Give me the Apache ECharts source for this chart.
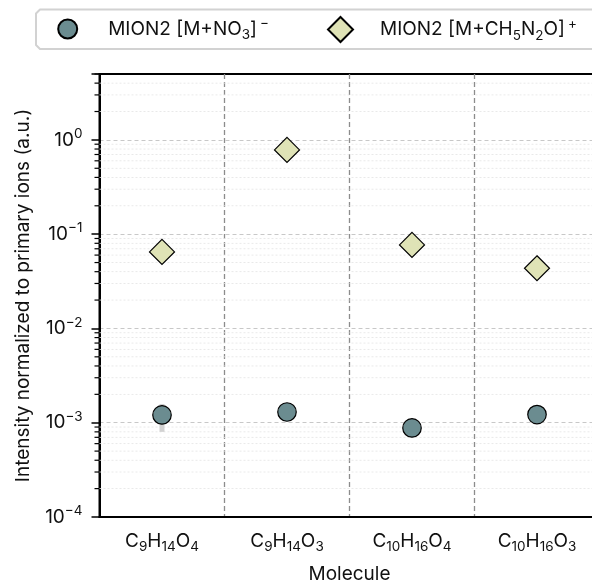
<!DOCTYPE html>
<html>
<head>
<meta charset="utf-8">
<script src="https://cdn.jsdelivr.net/npm/echarts@6/dist/echarts.min.js"></script>
<style>
  html, body { margin: 0; padding: 0; background: #fff; }
  #chart { width: 592px; height: 584px; }
</style>
</head>
<body>
<div id="chart"></div>
<script>
// ---- data ----
const categories = ['C9H14O4', 'C9H14O3', 'C10H16O4', 'C10H16O3'];
const seriesNames = ['MION2 [M+NO3]-', 'MION2 [M+CH5N2O]+'];
const nitrateValues = [0.00121, 0.00130, 0.00088, 0.00122];
const nitrateLow    = [0.00080, 0.00121, 0.00083, 0.00114];
const nitrateHigh   = [0.00158, 0.00139, 0.00094, 0.00130];
const ureaValues    = [0.0648, 0.783, 0.0769, 0.0435];
const yTickExponents = [-4, -3, -2, -1, 0];
const minorMantissas = [2, 3, 4, 5, 6, 7, 8, 9];

const FONT = 'Inter, "Open Sans", sans-serif';
const FS = 19;
const FS_SMALL = 13.5;
const circleColor = '#6b8c90';
const diamondColor = '#dfe3b6';

const minorValues = [];
yTickExponents.forEach(e => minorMantissas.forEach(m => {
  const v = m * Math.pow(10, e);
  if (v <= 5) minorValues.push(v);
}));

function chemRich(s) {
  return s.replace(/(\d+)/g, '{s|$1}');
}
function legendRich(name) {
  if (name === seriesNames[0]) return '{g1|}{t|MION2 [M+NO}{s|3}{t|]}{p|−}';
  return '{g2|}{t|MION2 [M+CH}{s|5}{t|N}{s|2}{t|O]}{p|+}';
}
const legendRichStyles = {
  t: { fontSize: FS, fontFamily: FONT, color: '#111', lineHeight: 26 },
  s: { fontSize: FS_SMALL, fontFamily: FONT, color: '#111', lineHeight: 13, verticalAlign: 'bottom' },
  p: { fontSize: FS_SMALL, fontFamily: FONT, color: '#111', lineHeight: 13, verticalAlign: 'top', padding: [0, 0, 0, 3] },
  g1: { width: 26 },
  g2: { width: 22 }
};

const chart = echarts.init(document.getElementById('chart'), null, { renderer: 'canvas' });

const option = {
  animation: false,
  backgroundColor: '#fff',
  graphic: [{
    type: 'polyline', z: -10,
    shape: { points: [[720, 9.5], [40, 9.5], [36, 13.5], [36, 45], [40, 49], [720, 49]] },
    style: { fill: null, stroke: '#d2d2d2', lineWidth: 2, lineJoin: 'round' }
  }],
  legend: [{
    data: [{ name: seriesNames[0], icon: 'circle' }],
    left: 57.2, top: 16, padding: 0,
    itemWidth: 19, itemHeight: 19,
    selectedMode: false,
    formatter: legendRich,
    textStyle: { rich: legendRichStyles }
  }, {
    data: [{ name: seriesNames[1], icon: 'diamond' }],
    left: 327, top: 16, padding: 0,
    itemWidth: 25, itemHeight: 25,
    selectedMode: false,
    formatter: legendRich,
    textStyle: { rich: legendRichStyles }
  }],
  grid: {
    left: 99.5, top: 74, bottom: 67, right: -7.5,
    containLabel: false,
    outerBoundsMode: 'none',
    show: true, borderColor: '#000', borderWidth: 2, backgroundColor: 'transparent'
  },
  xAxis: {
    type: 'category',
    data: categories,
    boundaryGap: true,
    name: 'Molecule',
    nameLocation: 'middle',
    nameGap: 48,
    nameTextStyle: { fontSize: FS, fontFamily: FONT, color: '#111' },
    axisLine: { lineStyle: { color: '#000', width: 2 } },
    axisTick: { show: false },
    axisLabel: {
      interval: 0,
      margin: 11,
      formatter: chemRich,
      rich: {
        s: { fontSize: FS_SMALL, fontFamily: FONT, color: '#111', lineHeight: 13, verticalAlign: 'bottom' }
      },
      fontSize: FS, fontFamily: FONT, color: '#111', lineHeight: 26
    },
    splitLine: { show: true, interval: 0, lineStyle: { color: '#8c8c8c', width: 1.3, type: [5, 3] } }
  },
  yAxis: {
    type: 'log',
    logBase: 10,
    min: 1e-4,
    max: 5,
    name: 'Intensity normalized to primary ions (a.u.)',
    nameLocation: 'middle',
    nameGap: 67,
    nameTextStyle: { fontSize: FS, fontFamily: FONT, color: '#111' },
    axisLine: { show: true, lineStyle: { color: '#000', width: 2 } },
    axisTick: { show: true, length: 8, lineStyle: { color: '#000', width: 1.5 } },
    axisLabel: {
      margin: 17,
      fontSize: FS, fontFamily: FONT, color: '#111', lineHeight: 26,
      formatter: function (v) {
        const l = Math.log10(v);
        const e = Math.round(l);
        if (Math.abs(l - e) > 1e-6) return '';
        return '10{p|' + (e < 0 ? '−' + (-e) : e) + '}';
      },
      rich: {
        p: { fontSize: FS_SMALL, fontFamily: FONT, color: '#111', lineHeight: 13, verticalAlign: 'top' }
      }
    },
    splitLine: { show: true, showMinLine: false, showMaxLine: false, lineStyle: { color: '#c8c8c8', width: 1, type: [4, 3] } }
  },
  series: [
    {
      type: 'custom',
      name: 'minor',
      silent: true,
      clip: false,
      z: 1,
      data: minorValues.map(v => [0, v]),
      renderItem: function (params, api) {
        const cs = params.coordSys;
        const v = api.value(1);
        const y = api.coord([0, v])[1];
        const children = [{
          type: 'line',
          shape: { x1: cs.x - 5, y1: y, x2: cs.x, y2: y },
          style: { stroke: '#000', lineWidth: 1.2 }
        }];
        if (v < 5) {
          children.push({
            type: 'line',
            shape: { x1: cs.x, y1: y, x2: cs.x + cs.width, y2: y },
            style: { stroke: '#e4e4e4', lineWidth: 0.8, lineDash: [2, 2] }
          });
        }
        return { type: 'group', children: children };
      }
    },
    {
      type: 'custom',
      name: 'errorbars',
      silent: true,
      z: 3,
      data: categories.map((c, i) => [i, nitrateLow[i], nitrateHigh[i]]),
      renderItem: function (params, api) {
        const p1 = api.coord([api.value(0), api.value(1)]);
        const p2 = api.coord([api.value(0), api.value(2)]);
        return {
          type: 'rect',
          shape: { x: p1[0] - 2.5, y: p2[1], width: 5, height: p1[1] - p2[1] },
          style: { fill: '#d2d2d2' }
        };
      }
    },
    {
      type: 'scatter',
      name: seriesNames[0],
      z: 5,
      symbol: 'circle',
      symbolSize: 18.5,
      itemStyle: { color: circleColor, borderColor: '#000', borderWidth: 1.2, opacity: 1 },
      data: nitrateValues
    },
    {
      type: 'scatter',
      name: seriesNames[1],
      z: 5,
      symbol: 'diamond',
      symbolSize: 25,
      itemStyle: { color: diamondColor, borderColor: '#000', borderWidth: 1.2, opacity: 1 },
      data: ureaValues
    }
  ]
};
chart.setOption(option);
</script>
</body>
</html>
